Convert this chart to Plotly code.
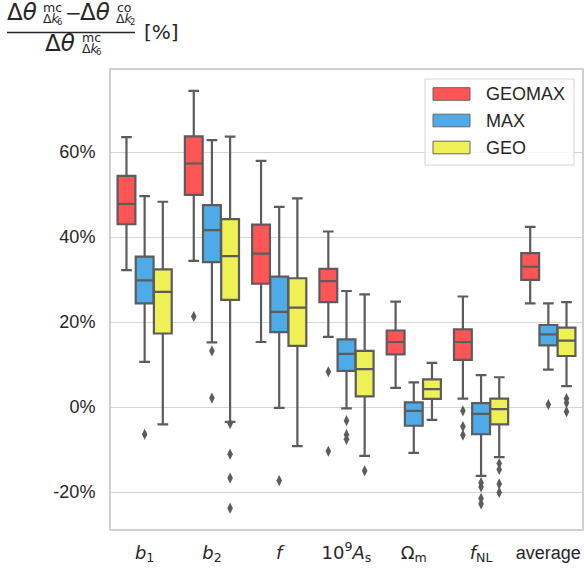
import plotly.graph_objects as go

# ---------------- data ----------------
categories = ["<i>b</i><sub>1</sub>", "<i>b</i><sub>2</sub>", "<i>f</i>",
              "10<sup>9</sup><i>A</i><sub>s</sub>", "Ω<sub>m</sub>",
              "<i>f</i><sub>NL</sub>", "average"]
series_names = ["GEOMAX", "MAX", "GEO"]

geomax_upper = [63.5, 74.4, 57.9, 41.3, 24.8, 26.0, 42.4]
geomax_q3 = [54.4, 63.7, 42.9, 32.5, 18.0, 18.3, 36.2]
geomax_median = [47.8, 57.3, 36.1, 29.6, 15.3, 15.3, 33.0]
geomax_q1 = [43.0, 49.9, 29.0, 24.7, 12.4, 11.1, 29.9]
geomax_lower = [32.2, 34.4, 15.3, 16.5, 4.5, 2.0, 24.4]
geomax_outliers = [[], [21.3], [], [8.3, -10.4], [], [-0.9, -4.6, -6.6], []]

max_upper = [49.6, 62.8, 47.1, 27.3, 5.8, 7.5, 24.4]
max_q3 = [35.4, 47.5, 30.7, 15.9, 1.1, 0.9, 19.3]
max_median = [29.8, 41.6, 22.4, 12.5, -0.9, -1.6, 17.1]
max_q1 = [24.4, 34.1, 17.6, 8.5, -4.4, -6.4, 14.5]
max_lower = [10.6, 15.2, -0.2, -0.3, -10.8, -16.2, 8.8]
max_outliers = [[-6.4], [13.2, 2.1], [-17.3], [-3.2, -6.5, -7.6], [],
                [-17.8, -18.8, -21.5, -22.8], [0.6]]

geo_upper = [48.3, 63.6, 49.1, 26.5, 10.4, 7.0, 24.7]
geo_q3 = [32.4, 44.2, 30.3, 13.2, 6.5, 2.0, 18.7]
geo_median = [27.1, 35.5, 23.4, 8.9, 4.2, -0.5, 15.6]
geo_q1 = [17.3, 25.2, 14.4, 2.5, 1.9, -4.1, 12.0]
geo_lower = [-4.1, -3.5, -9.2, -11.5, -3.0, -11.8, 4.9]
geo_outliers = [[], [-3.9, -11.1, -16.7, -23.8], [], [-15.0], [],
                [-13.3, -14.7, -18.1, -20.1], [2.0, 1.0, -1.1]]

y_tick_vals = [-20, 0, 20, 40, 60]
y_tick_text = ["-20%", "0%", "20%", "40%", "60%"]

# ---------------- styling ----------------
colors = ["#FF5556", "#4EABE8", "#EFF055"]
edge = "#5c5c5c"
txt = "#262626"
W, H = 584, 569
L, R, T, B = 111, 2, 70, 40
PW, PH = W - L - R, H - T - B

def px(x):
    return (x - L) / PW

def py(y):
    return (H - B - y) / PH

stats = [
    (geomax_q1, geomax_median, geomax_q3, geomax_lower, geomax_upper, geomax_outliers),
    (max_q1, max_median, max_q3, max_lower, max_upper, max_outliers),
    (geo_q1, geo_median, geo_q3, geo_lower, geo_upper, geo_outliers),
]
offsets = [-0.27, 0.0, 0.27]

fig = go.Figure()
for k, (name, col, off, st) in enumerate(zip(series_names, colors, offsets, stats)):
    q1, med, q3, lo, up, outs = st
    xs = [i + off for i in range(len(categories))]
    fig.add_trace(go.Box(
        x=xs, q1=q1, median=med, q3=q3, lowerfence=lo, upperfence=up,
        name=name, width=0.265, whiskerwidth=0.6,
        fillcolor=col, line=dict(color=edge, width=2.2),
        boxpoints=False, showlegend=False,
    ))
    ox, oy = [], []
    for i, vals in enumerate(outs):
        for v in vals:
            ox.append(i + off)
            oy.append(v)
    fig.add_trace(go.Scatter(
        x=ox, y=oy, mode="markers", showlegend=False,
        marker=dict(symbol="diamond-tall", size=8, color=edge,
                    line=dict(width=0)),
    ))

fig.update_layout(
    width=W, height=H, margin=dict(l=L, r=R, t=T, b=B, autoexpand=False),
    paper_bgcolor="white", plot_bgcolor="white",
    boxmode="overlay",
    font=dict(family="Liberation Sans, Arial", size=18, color=txt),
    xaxis=dict(range=[-0.5, 6.5], tickmode="array",
               tickvals=list(range(len(categories))),
               ticktext=[c if c == "average" else
                         "<span style='font-family:DejaVu Sans'>" + c + "</span>"
                         for c in categories],
               showgrid=False, zeroline=False, showline=True, mirror=True,
               linecolor="#d0d0d0", linewidth=2, ticks="",
               ticklabelstandoff=6,
               tickfont=dict(size=18, color=txt)),
    yaxis=dict(range=[-28.7, 79.3], tickmode="array",
               tickvals=y_tick_vals, ticktext=y_tick_text,
               showgrid=True, gridcolor="#d6d6d6", gridwidth=1.3,
               zeroline=False, showline=True, mirror=True,
               linecolor="#d0d0d0", linewidth=2, ticks="",
               ticklabelstandoff=10,
               tickfont=dict(size=18, color=txt)),
)

# ---------------- legend (drawn by hand) ----------------
shapes = [dict(type="rect", xref="paper", yref="paper",
               x0=px(425), x1=px(574), y0=py(165), y1=py(79),
               fillcolor="rgba(255,255,255,0.8)",
               line=dict(color="#d4d4d4", width=1))]
annotations = []
leg_y = [94, 120.5, 147.5]
for name, col, yc in zip(series_names, colors, leg_y):
    shapes.append(dict(type="rect", xref="paper", yref="paper",
                       x0=px(433), x1=px(470), y0=py(yc + 6.3), y1=py(yc - 6.3),
                       fillcolor=col, line=dict(color="#666666", width=1)))
    annotations.append(dict(text=name, xref="paper", yref="paper",
                            x=px(484), y=py(yc), xanchor="left", yanchor="middle",
                            showarrow=False, font=dict(size=18, color=txt)))

# ---------------- y-axis label: fraction ----------------
mf = "DejaVu Sans"

def label(text, x, y, size):
    annotations.append(dict(text=text, xref="paper", yref="paper",
                            x=px(x), y=py(y), xanchor="left", yanchor="middle",
                            showarrow=False, borderpad=0,
                            font=dict(family=mf, size=size, color=txt)))

# numerator
label("Δ<i>θ</i>", 6, 12.5, 23)
label("mc", 42, 7.5, 12.5)
label("Δ<i>k</i>", 42, 18, 12.5)
label("6", 56, 21.5, 8.5)
label("−", 64, 13, 20)
label("Δ<i>θ</i>", 79, 12.5, 23)
label("co", 116, 7.5, 12.5)
label("Δ<i>k</i>", 115, 18, 12.5)
label("2", 129, 21.5, 8.5)
# denominator
label("Δ<i>θ</i>", 44, 43, 23)
label("mc", 81, 38, 12.5)
label("Δ<i>k</i>", 81, 48.5, 12.5)
label("6", 95, 52, 8.5)
label("[%]", 143, 32, 20)
shapes.append(dict(type="line", xref="paper", yref="paper",
                   x0=px(7), x1=px(135), y0=py(32.5), y1=py(32.5),
                   line=dict(color=txt, width=1.3)))

fig.update_layout(shapes=shapes, annotations=annotations)
fig.write_html("out.html", config={"displayModeBar": False},
               post_script="document.body.style.margin='0px';"
                           "document.body.style.padding='0px';")
